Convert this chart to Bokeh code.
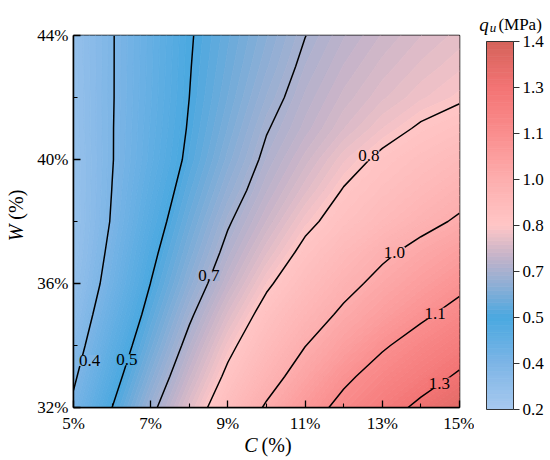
import numpy as np
from bokeh.plotting import figure
from bokeh.plotting.contour import contour_data
from bokeh.models import Range1d, FixedTicker
from bokeh.layouts import row, column
from bokeh.embed import file_html
from bokeh.resources import INLINE
from bokeh.core.properties import value

# ---------------- data ----------------
C_values = [5, 6, 7, 8, 9, 10, 11, 12, 13, 14, 15]                      # C (%)
W_values = [32, 33, 34, 35, 36, 37, 38, 39, 40, 41, 42, 43, 44]         # W (%)
qu_W32 = [0.365, 0.500, 0.630, 0.748, 0.858, 0.961, 1.050, 1.131, 1.204, 1.273, 1.336]
qu_W33 = [0.338, 0.467, 0.592, 0.709, 0.817, 0.909, 0.996, 1.079, 1.145, 1.204, 1.264]
qu_W34 = [0.312, 0.438, 0.557, 0.673, 0.780, 0.866, 0.948, 1.018, 1.088, 1.145, 1.199]
qu_W35 = [0.290, 0.410, 0.527, 0.638, 0.740, 0.829, 0.900, 0.967, 1.025, 1.082, 1.135]
qu_W36 = [0.272, 0.385, 0.501, 0.604, 0.700, 0.788, 0.856, 0.921, 0.977, 1.026, 1.075]
qu_W37 = [0.261, 0.370, 0.481, 0.578, 0.669, 0.748, 0.819, 0.876, 0.933, 0.979, 1.020]
qu_W38 = [0.258, 0.356, 0.461, 0.555, 0.643, 0.713, 0.782, 0.832, 0.877, 0.922, 0.962]
qu_W39 = [0.258, 0.351, 0.445, 0.534, 0.616, 0.686, 0.746, 0.804, 0.842, 0.880, 0.918]
qu_W40 = [0.260, 0.347, 0.432, 0.515, 0.593, 0.664, 0.718, 0.772, 0.814, 0.845, 0.875]
qu_W41 = [0.264, 0.347, 0.427, 0.506, 0.576, 0.646, 0.693, 0.737, 0.775, 0.808, 0.832]
qu_W42 = [0.265, 0.346, 0.423, 0.500, 0.563, 0.626, 0.678, 0.717, 0.747, 0.772, 0.792]
qu_W43 = [0.267, 0.346, 0.421, 0.497, 0.554, 0.610, 0.663, 0.701, 0.730, 0.753, 0.772]
qu_W44 = [0.268, 0.346, 0.420, 0.494, 0.547, 0.598, 0.649, 0.686, 0.714, 0.737, 0.755]

x_ticks = [5, 7, 9, 11, 13, 15]
x_tick_labels = ["5%", "7%", "9%", "11%", "13%", "15%"]
x_minor_ticks = [6, 8, 10, 12, 14]
y_ticks = [32, 36, 40, 44]
y_tick_labels = ["32%", "36%", "40%", "44%"]
y_minor_ticks = [34, 38, 42]

cbar_low, cbar_high = 0.2, 1.4
cbar_ticks = [0.2, 0.35, 0.5, 0.65, 0.8, 0.95, 1.1, 1.25, 1.4]
cbar_tick_labels = ["0.2", "0.4", "0.5", "0.7", "0.8", "1.0", "1.1", "1.3", "1.4"]

contour_levels = [0.35, 0.5, 0.65, 0.8, 0.95, 1.1, 1.25]
contour_label_text = ["0.4", "0.5", "0.7", "0.8", "1.0", "1.1", "1.3"]
contour_label_C = [5.42, 6.38, 8.51, 12.65, 13.31, 14.37, 14.48]
contour_label_W = [33.52, 33.54, 36.26, 40.12, 37.01, 35.04, 32.79]

x_title = ["C", "(%)"]
y_title = ["W", "(%)"]
bar_title = ["q", "u", "(MPa)"]

# ---------------- colour map ----------------
stop_vals = [0.2, 0.35, 0.5, 0.6, 0.7, 0.8, 0.95, 1.1, 1.25, 1.4]
stop_cols = ["#a8c9ef", "#7db5e6", "#4aa8e0", "#8aaed6", "#c4b3c9",
             "#ffc6c6", "#fdaeae", "#fa8e8e", "#f37474", "#d5635b"]


def _rgb(h):
    h = h.lstrip("#")
    return [int(h[i:i + 2], 16) for i in (0, 2, 4)]


_stop_rgb = np.array([_rgb(c) for c in stop_cols], dtype=float)


def cmap(v):
    r = np.interp(v, stop_vals, _stop_rgb[:, 0])
    g = np.interp(v, stop_vals, _stop_rgb[:, 1])
    b = np.interp(v, stop_vals, _stop_rgb[:, 2])
    return "#%02x%02x%02x" % (int(round(r)), int(round(g)), int(round(b)))


fill_levels = list(np.linspace(cbar_low, cbar_high, 97))
band_colors = [cmap(0.5 * (a + b)) for a, b in zip(fill_levels[:-1], fill_levels[1:])]
label_bg = [cmap(v) for v in contour_levels]

qu_grid = np.array([qu_W32, qu_W33, qu_W34, qu_W35, qu_W36, qu_W37, qu_W38,
                    qu_W39, qu_W40, qu_W41, qu_W42, qu_W43, qu_W44])

FONT = "Liberation Serif"

# ---------------- layout geometry (pixels) ----------------
TOTAL_H = 458
FW, FH = 386, 372                 # main frame
ML, MR, MT, MB = 37, 15, 35, 27
LEFT_W = 34                       # strip for the y title
BOT_H = TOTAL_H - (MT + FH + MB)  # strip for the x title
BAR_X0, BAR_W = 12, 27            # colour bar inside its own panel
BAR_TOP, BAR_H = 41, 368
CB_W = 76
px_per_W = FH / 12.0
px_per_C = FW / 10.0
px_per_q = BAR_H / (cbar_high - cbar_low)

# ---------------- main plot ----------------
p = figure(frame_width=FW, frame_height=FH,
           min_border_left=ML, min_border_right=MR, min_border_top=MT, min_border_bottom=MB,
           x_range=Range1d(5, 15), y_range=Range1d(32, 44),
           output_backend="svg", toolbar_location=None,
           background_fill_color="white", border_fill_color="white")
p.grid.visible = False

cd_fill = contour_data(C_values, W_values, qu_grid, fill_levels, want_fill=True, want_line=False)
fd = cd_fill.fill_data
poly_colors = [cmap(0.5 * (float(lo) + float(hi))) for lo, hi in zip(fd.lower_levels, fd.upper_levels)]
p.multi_polygons(xs=fd.xs, ys=fd.ys, fill_color=poly_colors, line_color=poly_colors, line_width=0.8)

cd_line = contour_data(C_values, W_values, qu_grid, contour_levels, want_fill=False, want_line=True)
ld = cd_line.line_data
p.multi_line(xs=ld.xs, ys=ld.ys, line_color="black", line_width=1.5)

try:
    p.text(x=contour_label_C, y=contour_label_W, text=contour_label_text,
           text_font=value(FONT), text_font_size="17px", text_color="black",
           text_align="center", text_baseline="middle",
           background_fill_color=label_bg)
except Exception:
    p.text(x=contour_label_C, y=contour_label_W, text=contour_label_text,
           text_font=value(FONT), text_font_size="17px", text_color="black",
           text_align="center", text_baseline="middle")

p.xaxis.ticker = FixedTicker(ticks=x_ticks, minor_ticks=x_minor_ticks)
p.xaxis.major_label_overrides = dict(zip(x_ticks, x_tick_labels))
p.yaxis.ticker = FixedTicker(ticks=y_ticks, minor_ticks=y_minor_ticks)
p.yaxis.major_label_overrides = dict(zip(y_ticks, y_tick_labels))
for ax in (p.xaxis[0], p.yaxis[0]):
    ax.major_tick_in = 7
    ax.major_tick_out = 0
    ax.minor_tick_in = 4
    ax.minor_tick_out = 0
    ax.axis_line_color = "black"
    ax.axis_line_width = 1.5
    ax.major_tick_line_color = "black"
    ax.major_tick_line_width = 1.3
    ax.minor_tick_line_color = "black"
    ax.minor_tick_line_width = 1.1
    ax.major_label_text_font = FONT
    ax.major_label_text_font_size = "17px"
    ax.major_label_text_color = "black"
p.xaxis.major_label_standoff = 6
p.yaxis.major_label_standoff = 5
p.outline_line_color = "black"
p.outline_line_width = 1.5
p.outline_line_alpha = 1.0

# ---------------- y title strip (pixel units, origin bottom-left) ----------------
pL = figure(width=LEFT_W, height=TOTAL_H, x_range=Range1d(0, LEFT_W), y_range=Range1d(0, TOTAL_H),
            x_axis_location=None, y_axis_location=None, min_border=0,
            output_backend="svg", toolbar_location=None, outline_line_color=None)
pL.grid.visible = False
yj = TOTAL_H - (MT + (44 - 37.93) * px_per_W)     # junction between "W" and "(%)"
pL.text(x=[15], y=[yj - 1], text=[y_title[0]], angle=np.pi / 2,
        text_align="right", text_baseline="middle", text_font=value(FONT),
        text_font_style="italic", text_font_size="20px", text_color="black")
pL.text(x=[15], y=[yj + 4], text=[y_title[1]], angle=np.pi / 2,
        text_align="left", text_baseline="middle", text_font=value(FONT),
        text_font_size="20px", text_color="black")

# ---------------- x title strip (frame aligned with the main plot) ----------------
pB = figure(width=ML + FW + MR, height=BOT_H, x_range=Range1d(5, 15), y_range=Range1d(0, BOT_H),
            x_axis_location=None, y_axis_location=None, min_border=0,
            min_border_left=ML, min_border_right=MR,
            output_backend="svg", toolbar_location=None, outline_line_color=None)
pB.grid.visible = False
xj = 9.82                                         # junction between "C" and "(%)"
yc = BOT_H - (443 - (MT + FH + MB))
pB.text(x=[xj - 1 / px_per_C], y=[yc], text=[x_title[0]], text_align="right", text_baseline="middle",
        text_font=value(FONT), text_font_style="italic", text_font_size="20px", text_color="black")
pB.text(x=[xj + 3 / px_per_C], y=[yc], text=[x_title[1]], text_align="left", text_baseline="middle",
        text_font=value(FONT), text_font_size="20px", text_color="black")

# ---------------- colour bar panel ----------------
cx0 = -BAR_X0 / BAR_W
cx1 = (CB_W - BAR_X0) / BAR_W
cy1 = cbar_high + BAR_TOP / px_per_q
cy0 = cbar_high - (TOTAL_H - BAR_TOP) / px_per_q
p2 = figure(width=CB_W, height=TOTAL_H, x_range=Range1d(cx0, cx1), y_range=Range1d(cy0, cy1),
            x_axis_location=None, y_axis_location=None, min_border=0,
            output_backend="svg", toolbar_location=None, outline_line_color=None)
p2.grid.visible = False
p2.quad(left=0, right=1, bottom=fill_levels[:-1], top=fill_levels[1:],
        fill_color=band_colors, line_color=band_colors, line_width=0.8)
p2.quad(left=[0], right=[1], bottom=[cbar_low], top=[cbar_high],
        fill_color=None, line_color="#333333", line_width=1)
tick_len = 6 / BAR_W
p2.segment(x0=[1] * len(cbar_ticks), x1=[1 + tick_len] * len(cbar_ticks),
           y0=cbar_ticks, y1=cbar_ticks, line_color="#333333", line_width=1)
p2.text(x=[1 + 9 / BAR_W] * len(cbar_ticks), y=cbar_ticks, text=cbar_tick_labels,
        text_align="left", text_baseline="middle", text_font=value(FONT),
        text_font_size="17px", text_color="black")
p2.text(x=[-0.27], y=[1.4554], text=[bar_title[0]], text_align="left", text_baseline="alphabetic",
        text_font=value(FONT), text_font_style="italic", text_font_size="19px", text_color="black")
p2.text(x=[0.12], y=[1.4457], text=[bar_title[1]], text_align="left", text_baseline="alphabetic",
        text_font=value(FONT), text_font_style="italic", text_font_size="13px", text_color="black")
p2.text(x=[0.44], y=[1.4554], text=[bar_title[2]], text_align="left", text_baseline="alphabetic",
        text_font=value(FONT), text_font_size="17px", text_color="black")

layout = row(pL, column(p, pB), p2)
open("out.html", "w").write(file_html(layout, INLINE))
